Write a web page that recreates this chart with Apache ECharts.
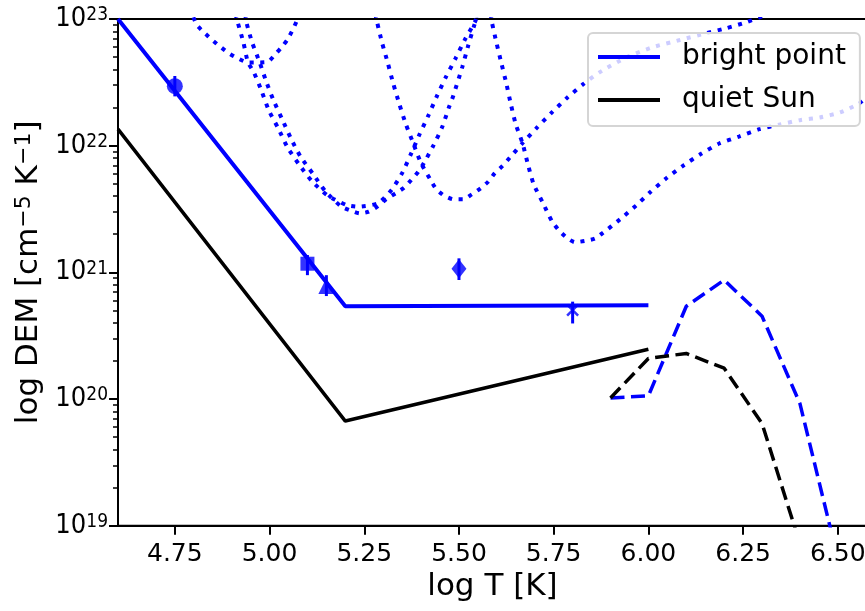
<!DOCTYPE html>
<html>
<head>
<meta charset="utf-8">
<script src="https://cdn.jsdelivr.net/npm/echarts@6/dist/echarts.min.js"></script>
<style>
  html, body { margin: 0; padding: 0; background: #fff; overflow: hidden; }
  #chart { width: 885px; height: 611px; }
</style>
</head>
<body>
<div id="chart"></div>
<script>
// axis ticks
const xTicks = [4.75, 5.0, 5.25, 5.5, 5.75, 6.0, 6.25, 6.5]
const minorMantissas = [2, 3, 4, 5, 6, 7, 8, 9]
const minorDecades = [1e19, 1e20, 1e21, 1e22]

// DEM fits (log T, DEM)
const brightFit = [[4.6, 1.0e23], [5.2, 5.4e20], [6.0, 5.5e20]]
const quietFit = [[4.6, 1.35e22], [5.2, 6.7e19], [6.0, 2.47e20]]

// EMD curves (dashed)
const brightEmd = [[5.9, 1.02e20], [6.0, 1.06e20], [6.1, 5.4e20], [6.2, 8.7e20], [6.3, 4.5e20], [6.4, 9.2e19], [6.5, 5.5e18]]
const quietEmd = [[5.9, 1.02e20], [6.0, 2.09e20], [6.1, 2.29e20], [6.2, 1.75e20], [6.3, 6.4e19], [6.4, 7.2e18]]

// observed points with error bars
const obsT = [4.75, 5.10, 5.15, 5.50, 5.80]
const obsDem = [2.95e22, 1.17e21, 7.8e20, 1.07e21, 5.03e20]
const obsLow = [2.45e22, 9.5e20, 6.5e20, 8.7e20, 3.95e20]
const obsHigh = [3.55e22, 1.37e21, 9.5e20, 1.29e21, 5.87e20]

// EM loci curves (dotted)
const lociA = [[4.799, 1.03e23], [4.808, 8.96e22], [4.828, 7.78e22], [4.849, 6.82e22], [4.870, 6.04e22], [4.893, 5.35e22],
  [4.916, 4.89e22], [4.943, 4.54e22], [4.971, 4.54e22], [4.996, 4.59e22], [5.015, 5.26e22], [5.033, 6.04e22],
  [5.048, 6.93e22], [5.062, 8.32e22], [5.072, 9.68e22], [5.081, 1.13e23]]
const lociB = [[4.910, 1.1e23], [4.916, 9.4e22], [4.931, 6.53e22], [4.943, 4.54e22], [4.958, 3.83e22], [4.979, 2.70e22],
  [4.998, 1.90e22], [5.023, 1.37e22], [5.048, 9.62e21], [5.079, 7.03e21], [5.113, 5.19e21], [5.154, 4.03e21],
  [5.203, 3.40e21], [5.232, 3.30e21], [5.286, 3.51e21], [5.322, 4.47e21], [5.351, 6.15e21], [5.374, 8.69e21],
  [5.396, 1.23e22], [5.420, 1.75e22], [5.442, 2.47e22], [5.465, 3.46e22], [5.491, 4.89e22], [5.515, 6.81e22],
  [5.542, 9.46e22], [5.550, 1.1e23]]
const lociC = [[4.936, 1.1e23], [4.939, 9.4e22], [4.954, 6.53e22], [4.974, 4.54e22], [4.991, 3.22e22], [5.011, 2.26e22],
  [5.034, 1.60e22], [5.057, 1.13e22], [5.082, 8.17e21], [5.115, 5.97e21], [5.148, 4.33e21], [5.188, 3.33e21],
  [5.211, 3.10e21], [5.238, 2.92e21], [5.262, 3.01e21], [5.286, 3.33e21], [5.308, 3.79e21], [5.333, 4.21e21],
  [5.355, 4.66e21], [5.374, 5.36e21], [5.392, 6.20e21], [5.407, 7.25e21], [5.433, 1.01e22], [5.456, 1.41e22],
  [5.474, 2.03e22], [5.484, 2.43e22], [5.509, 4.20e22], [5.524, 6.11e22], [5.539, 8.67e22], [5.547, 1.03e23]]
const lociD = [[5.279, 1.1e23], [5.284, 9.4e22], [5.297, 6.49e22], [5.312, 4.51e22], [5.326, 3.13e22], [5.342, 2.16e22],
  [5.359, 1.50e22], [5.379, 1.05e22], [5.399, 7.38e21], [5.425, 5.36e21], [5.440, 4.54e21], [5.461, 4.03e21],
  [5.486, 3.77e21], [5.511, 3.77e21], [5.534, 4.13e21], [5.557, 4.60e21], [5.577, 5.19e21], [5.594, 6.04e21],
  [5.615, 6.93e21], [5.634, 8.03e21], [5.668, 1.05e22], [5.707, 1.40e22], [5.746, 1.84e22], [5.785, 2.38e22],
  [5.828, 3.06e22], [5.872, 3.81e22], [5.943, 5.00e22], [6.012, 6.00e22], [6.083, 6.82e22], [6.154, 7.75e22],
  [6.207, 8.48e22], [6.260, 9.46e22], [6.307, 1.07e23]]
const lociE = [[5.584, 1.1e23], [5.587, 9.4e22], [5.599, 6.49e22], [5.612, 4.47e22], [5.625, 3.10e22], [5.637, 2.12e22],
  [5.650, 1.47e22], [5.668, 1.04e22], [5.682, 7.11e21], [5.697, 4.98e21], [5.722, 3.51e21], [5.746, 2.51e21],
  [5.763, 2.16e21], [5.784, 1.88e21], [5.806, 1.73e21], [5.832, 1.77e21], [5.859, 1.85e21], [5.880, 2.05e21],
  [5.925, 2.62e21], [5.967, 3.36e21], [6.006, 4.33e21], [6.049, 5.58e21], [6.094, 7.03e21], [6.138, 8.59e21],
  [6.187, 1.04e22], [6.239, 1.18e22], [6.293, 1.35e22], [6.347, 1.47e22], [6.400, 1.59e22], [6.453, 1.67e22],
  [6.506, 1.83e22], [6.554, 2.13e22], [6.574, 2.38e22]]

const blue = '#0000ff'
const font = 'DejaVu Sans'

const minorTicks = []
minorDecades.forEach(d => minorMantissas.forEach(m => minorTicks.push(m * d)))

const lociSeries = [lociA, lociB, lociC, lociD, lociE].map((d, i) => ({
  name: 'loci' + i,
  type: 'line',
  data: d,
  symbol: 'none',
  smooth: 0.2,
  lineStyle: { color: blue, width: 4, type: [4, 6.6], cap: 'butt' },
  z: 2,
}))

const markerSymbols = ['circle', 'rect', 'triangle', 'diamond', 'path://M0,0L10,10M10,0L0,10']
const markerSizes = [16, 14, 16, [15, 19], 11]

// the plot runs past the right edge of the window, like the cropped original
const chart = echarts.init(document.getElementById('chart'), null, { renderer: 'canvas' })
chart.setOption({
  animation: false,
  backgroundColor: '#fff',
  textStyle: { fontFamily: font },
  grid: {
    left: 118, top: 19, right: 18, bottom: 85.3,
    show: true, borderColor: '#000', borderWidth: 2, backgroundColor: 'transparent',
  },
  legend: {
    data: ['bright point', 'quiet Sun'],
    orient: 'vertical',
    left: 588, top: 33,
    padding: [10, 14, 12, 10],
    itemGap: 15,
    itemWidth: 62,
    itemHeight: 4,
    icon: 'rect',
    backgroundColor: 'rgba(255,255,255,0.8)',
    borderColor: '#d5d5d5',
    borderWidth: 2,
    borderRadius: 5,
    textStyle: { fontFamily: font, fontSize: 28, color: '#000', padding: [0, 0, 0, 17] },
  },
  xAxis: {
    type: 'value',
    min: 4.6, max: 6.577,
    name: 'log T [K]',
    nameLocation: 'middle',
    nameGap: 46,
    nameTextStyle: { fontFamily: font, fontSize: 31, color: '#000' },
    axisLine: { lineStyle: { color: '#000', width: 2 } },
    axisTick: { customValues: xTicks, length: 9, lineStyle: { color: '#000', width: 2 } },
    axisLabel: {
      customValues: xTicks, margin: 16, fontSize: 25, color: '#000', fontFamily: font,
      formatter: v => v.toFixed(2),
    },
    splitLine: { show: false },
  },
  yAxis: [
    {
      type: 'log', logBase: 10,
      min: 1e19, max: 1e23,
      name: 'log DEM [cm{s|−5} K{s|−1}]',
      nameLocation: 'middle',
      nameGap: 72,
      nameTextStyle: {
        fontFamily: font, fontSize: 31, color: '#000',
        rich: { s: { fontFamily: font, fontSize: 22, verticalAlign: 'top', lineHeight: 20 } },
      },
      axisLine: { show: true, lineStyle: { color: '#000', width: 2 } },
      axisTick: { length: 9, lineStyle: { color: '#000', width: 2 } },
      axisLabel: {
        margin: 10, color: '#000',
        formatter: v => '{b|10}{s|' + Math.round(Math.log10(v)) + '}',
        rich: {
          b: { fontFamily: 'DejaVu Sans Condensed, DejaVu Sans', fontSize: 27, lineHeight: 26, color: '#000' },
          s: { fontFamily: 'DejaVu Sans Condensed, DejaVu Sans', fontSize: 19, lineHeight: 15, verticalAlign: 'top', color: '#000' },
        },
      },
      splitLine: { show: false },
    },
    {
      type: 'log', logBase: 10,
      min: 1e19, max: 1e23,
      position: 'left',
      axisLine: { show: false },
      axisTick: { customValues: minorTicks, length: 5, lineStyle: { color: '#000', width: 1.5 } },
      axisLabel: { show: false },
      splitLine: { show: false },
    },
  ],
  series: [
    ...lociSeries,
    {
      name: 'bright point', type: 'line', data: brightFit, symbol: 'none',
      lineStyle: { color: blue, width: 4 }, itemStyle: { color: blue }, z: 3,
    },
    {
      name: 'quiet Sun', type: 'line', data: quietFit, symbol: 'none',
      lineStyle: { color: '#000', width: 3.5 }, itemStyle: { color: '#000' }, z: 3,
    },
    {
      name: 'bright EMD', type: 'line', data: brightEmd, symbol: 'none',
      lineStyle: { color: blue, width: 3.5, type: [14, 6.5], cap: 'butt' }, z: 3,
    },
    {
      name: 'quiet EMD', type: 'line', data: quietEmd, symbol: 'none',
      lineStyle: { color: '#000', width: 3.5, type: [14, 6.5], cap: 'butt' }, z: 3,
    },
    {
      name: 'error bars', type: 'custom', z: 4,
      data: obsT.map((t, i) => [t, obsLow[i], obsHigh[i]]),
      renderItem: (params, api) => {
        const p1 = api.coord([api.value(0), api.value(1)])
        const p2 = api.coord([api.value(0), api.value(2)])
        return {
          type: 'line',
          shape: { x1: p1[0], y1: p1[1], x2: p2[0], y2: p2[1] },
          style: { stroke: blue, lineWidth: 3 },
        }
      },
    },
    {
      name: 'observed', type: 'scatter', z: 5,
      data: obsT.map((t, i) => ({
        value: [t, obsDem[i]],
        symbol: markerSymbols[i],
        symbolSize: markerSizes[i],
        itemStyle: i === 4
          ? { color: 'none', borderColor: blue, borderWidth: 2.5 }
          : { color: blue },
      })),
    },
  ],
})
</script>
</body>
</html>
